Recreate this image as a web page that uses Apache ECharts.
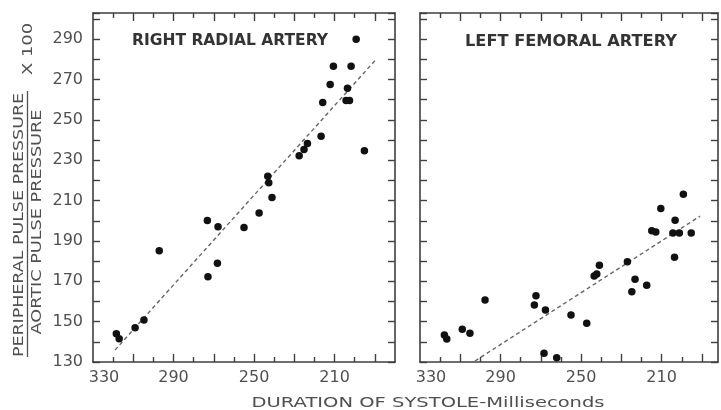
<!DOCTYPE html>
<html>
<head>
<meta charset="utf-8">
<script src="https://cdn.jsdelivr.net/npm/echarts@6/dist/echarts.min.js"></script>
<style>
  html, body { margin: 0; padding: 0; background: #fff; }
  #chart { width: 721px; height: 410px; }
</style>
</head>
<body>
<div id="chart"></div>
<script>
// Pulse-pressure ratio vs. duration of systole, two recording sites
const radialPoints = [
  [199.3, 290], [210.6, 276.6], [201.8, 276.6], [212.2, 267.5], [203.6, 265.7],
  [204.3, 259.6], [202.6, 259.6], [215.9, 258.6], [216.7, 241.9], [195.2, 234.7],
  [223.5, 238.3], [225.2, 235.3], [227.6, 232.2], [243.2, 222.1], [242.7, 218.8],
  [241.1, 211.6], [247.5, 203.9], [255.0, 196.7], [267.9, 197.0], [273.2, 200.2],
  [268.2, 178.9], [272.9, 172.3], [297.1, 185.1], [309.1, 147.0], [304.7, 150.8],
  [318.4, 144.0], [317.0, 141.5]
];
const femoralPoints = [
  [199.2, 213.2], [210.4, 206.1], [203.3, 200.3], [214.9, 195.0], [212.9, 194.5],
  [204.4, 194.0], [201.2, 194.0], [195.3, 194.0], [203.6, 181.9], [227.0, 179.7],
  [223.2, 171.0], [217.4, 168.1], [224.8, 164.8], [240.9, 178.0], [242.2, 173.6],
  [243.5, 172.6], [255.0, 153.3], [247.2, 149.2], [272.4, 162.8], [273.2, 158.2],
  [267.7, 155.8], [297.7, 160.7], [309.0, 146.2], [305.2, 144.2], [317.9, 143.4],
  [316.7, 141.4], [268.4, 134.3], [262.1, 132.1]
];
// Fitted regression lines (end points)
const radialFit = [[319.1, 135.9], [189.5, 279.9]];
const femoralFit = [[302.7, 130.5], [190.9, 202.3]];

const panelTitles = ['RIGHT RADIAL ARTERY', 'LEFT FEMORAL ARTERY'];
const xLabelValues = [330, 290, 250, 210];
const xMajorTicks = [190, 210, 230, 250, 270, 290, 310];
const xMinorTicks = [200, 220, 240, 260, 280, 300, 320];
const yLabelValues = [130, 150, 170, 190, 210, 230, 250, 270, 290];
const xRanges = [[180, 330], [182, 330]];
const yRange = [130, 303];

const FONT = '"DejaVu Sans", "Noto Sans", sans-serif';
const INK = '#3f3f3f';
const LABEL = '#505050';

function textWidth(text, font) {
  const ctx = document.createElement('canvas').getContext('2d');
  ctx.font = font;
  return ctx.measureText(text).width;
}

const chart = echarts.init(document.getElementById('chart'), null, { renderer: 'canvas' });

const grids = [
  { left: 93, right: 326, top: 13, bottom: 48 },
  { left: 420, right: 3, top: 13, bottom: 48 }
];

const xAxes = [];
const yAxes = [];
grids.forEach((g, gi) => {
  const base = {
    type: 'value', gridIndex: gi, inverse: true,
    min: xRanges[gi][0], max: xRanges[gi][1],
    splitLine: { show: false }
  };
  const line = { show: true, onZero: false, lineStyle: { color: INK, width: 1.6 } };
  // bottom axis with labels and minor ticks
  xAxes.push(Object.assign({}, base, {
    position: 'bottom', axisLine: line,
    axisTick: { show: true, inside: true, length: 5, customValues: xMinorTicks, lineStyle: { color: INK, width: 1.4 } },
    axisLabel: {
      show: true, customValues: xLabelValues, margin: 8,
      color: LABEL, fontFamily: FONT, fontSize: 16,
      formatter: v => v === 330 ? '{edge|330}' : String(v),
      rich: { edge: { padding: [0, 0, 0, 22], color: LABEL, fontFamily: FONT, fontSize: 16 } }
    }
  }));
  // bottom major ticks
  xAxes.push(Object.assign({}, base, {
    position: 'bottom', axisLine: { show: false, onZero: false },
    axisTick: { show: true, inside: true, length: 8, customValues: xMajorTicks, lineStyle: { color: INK, width: 1.4 } },
    axisLabel: { show: false }
  }));
  // top frame with minor ticks
  xAxes.push(Object.assign({}, base, {
    position: 'top', axisLine: line,
    axisTick: { show: true, inside: true, length: 5, customValues: xMinorTicks, lineStyle: { color: INK, width: 1.4 } },
    axisLabel: { show: false }
  }));
  // top major ticks
  xAxes.push(Object.assign({}, base, {
    position: 'top', axisLine: { show: false, onZero: false },
    axisTick: { show: true, inside: true, length: 8, customValues: xMajorTicks, lineStyle: { color: INK, width: 1.4 } },
    axisLabel: { show: false }
  }));

  const ybase = {
    type: 'value', gridIndex: gi, min: yRange[0], max: yRange[1], interval: 10,
    splitLine: { show: false },
    axisLine: line,
    axisTick: { show: true, inside: true, length: 7, lineStyle: { color: INK, width: 1.4 } }
  };
  yAxes.push(Object.assign({}, ybase, {
    position: 'left',
    axisLabel: gi === 0
      ? { show: true, customValues: yLabelValues, margin: 10, color: LABEL, fontFamily: FONT, fontSize: 16 }
      : { show: false }
  }));
  yAxes.push(Object.assign({}, ybase, { position: 'right', axisLabel: { show: false } }));
});

const dotStyle = { color: '#111', opacity: 1 };
const fitStyle = { color: '#666', width: 1.4, type: [4, 3] };

const series = [
  { type: 'scatter', xAxisIndex: 0, yAxisIndex: 0, data: radialPoints, symbolSize: 7.5, itemStyle: dotStyle, z: 3 },
  { type: 'line', xAxisIndex: 0, yAxisIndex: 0, data: radialFit, symbol: 'none', lineStyle: fitStyle, z: 2, silent: true },
  { type: 'scatter', xAxisIndex: 4, yAxisIndex: 2, data: femoralPoints, symbolSize: 7.5, itemStyle: dotStyle, z: 3 },
  { type: 'line', xAxisIndex: 4, yAxisIndex: 2, data: femoralFit, symbol: 'none', lineStyle: fitStyle, z: 2, silent: true }
];

// Stretched lettering helper: scales text along its baseline to a target length
function stretched(text, cx, cy, fontSize, weight, target, rotation, color) {
  const font = weight + ' ' + fontSize + 'px ' + FONT;
  const w = textWidth(text, font);
  return {
    type: 'text', x: cx, y: cy, rotation: rotation || 0,
    scaleX: target / w, scaleY: 1,
    style: { text: text, font: font, fill: color, align: 'center', verticalAlign: 'middle' },
    silent: true
  };
}

const graphics = [
  stretched(panelTitles[0], 230, 41, 15, 'bold', 196, 0, '#333'),
  stretched(panelTitles[1], 571, 42, 15, 'bold', 212, 0, '#333'),
  stretched('DURATION OF SYSTOLE-Milliseconds', 428, 403, 14, 'normal', 353, 0, LABEL),
  stretched('PERIPHERAL PULSE PRESSURE', 19, 225, 14, 'normal', 264, Math.PI / 2, LABEL),
  stretched('AORTIC PULSE PRESSURE', 37.5, 222, 14, 'normal', 225, Math.PI / 2, LABEL),
  stretched('X 100', 28.5, 49, 14, 'normal', 52, Math.PI / 2, LABEL),
  {
    type: 'line', silent: true,
    shape: { x1: 27.5, y1: 91, x2: 27.5, y2: 357 },
    style: { stroke: LABEL, lineWidth: 1.3 }
  }
];

chart.setOption({
  animation: false,
  backgroundColor: '#fff',
  grid: grids,
  xAxis: xAxes,
  yAxis: yAxes,
  series: series,
  graphic: graphics
});
</script>
</body>
</html>
